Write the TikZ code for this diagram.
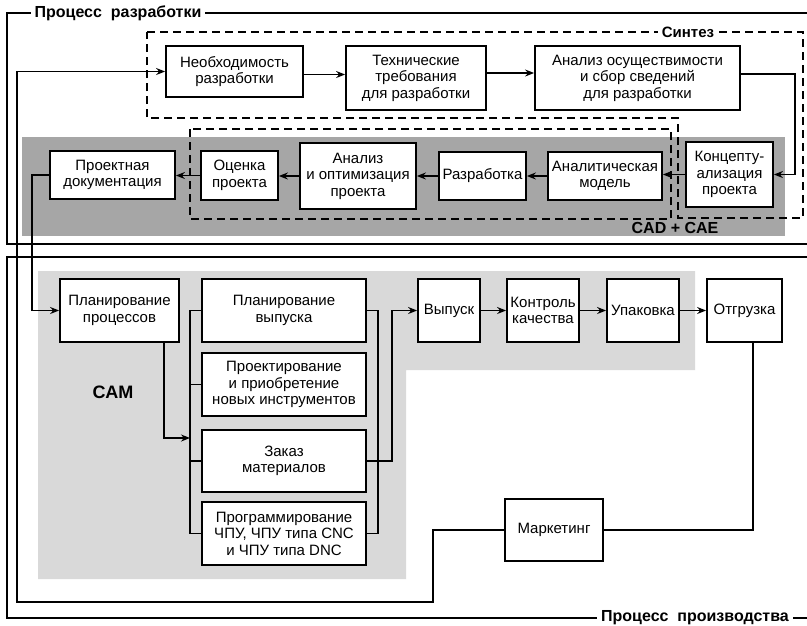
\documentclass[tikz,border=0pt]{standalone}
\usepackage{fontspec}
\setmainfont{Liberation Sans}
\usetikzlibrary{arrows.meta}
\definecolor{darkband}{RGB}{166,166,166}
\definecolor{lightband}{RGB}{217,217,217}
\begin{document}
\begin{tikzpicture}[x=1pt,y=-1pt,
 box/.style={draw, line width=1.8pt, fill=white, align=center, inner sep=1pt, font=\fontsize{15}{16.5}\selectfont},
 conn/.style={line width=1.5pt},
 arr/.style={conn, -{Stealth[length=9pt,width=7pt,inset=3pt]}},
 frame/.style={line width=1.6pt},
 synt/.style={line width=1.9pt, dash pattern=on 8pt off 5pt},
 lbl/.style={font=\bfseries\fontsize{16}{18}\selectfont, fill=white, inner xsep=4pt, inner ysep=1pt},
 bandlbl/.style={font=\bfseries\fontsize{16}{18}\selectfont, inner sep=0pt}
]
\useasboundingbox (0,0) rectangle (807,625);
\fill[white] (0,0) rectangle (807,625);

% backgrounds
\fill[darkband] (22,137) rectangle (785,236);
\fill[lightband] (38,271) -- (695,271) -- (695,370) -- (406,370) -- (406,579) -- (38,579) -- cycle;

% frames
\draw[frame] (807,13) -- (7,13) -- (7,244) -- (807,244);
\draw[frame] (807,257) -- (7,257) -- (7,618) -- (807,618);
\node[lbl] (lblA) at (118,13) {Процесс\ \ разработки};
\node[lbl] (lblB) at (695,618) {Процесс\ \ производства};

% dashed regions
\draw[synt] (147,32) -- (803,32) -- (803,218) -- (678,218) -- (678,118) -- (147,118) -- cycle;
\draw[synt] (190,129) rectangle (671,219);
\node[lbl, font=\bfseries\fontsize{15}{17}\selectfont] (lblS) at (688,32) {Синтез};
\node[bandlbl] (lblC) at (675,228) {CAD + CAE};
\node[bandlbl, font=\bfseries\fontsize{18}{20}\selectfont] (lblM) at (113,392) {CAM};

% top row
\node[box, minimum width=137pt, minimum height=51pt] (nb) at (234.5,71.5) {Необходимость\\разработки};
\node[box, minimum width=140pt, minimum height=64pt] (tt) at (416,78) {Технические\\требования\\для разработки};
\node[box, minimum width=205pt, minimum height=64pt] (ao) at (637.5,78) {Анализ осуществимости\\и сбор сведений\\для разработки};

% CAD row
\node[box, minimum width=87pt, minimum height=65pt] (kp) at (729.5,174.5) {Концепту-\\ализация\\проекта};
\node[box, minimum width=114pt, minimum height=48pt] (am) at (605,176) {Аналитическая\\модель};
\node[box, minimum width=87pt, minimum height=48pt] (rz) at (482.5,176) {Разработка};
\node[box, minimum width=116pt, minimum height=66pt] (ao2) at (358,176) {Анализ\\и оптимизация\\проекта};
\node[box, minimum width=77pt, minimum height=49pt] (op) at (239.5,175.5) {Оценка\\проекта};
\node[box, minimum width=125pt, minimum height=48pt] (pd) at (112.5,175) {Проектная\\документация};

% production
\node[box, minimum width=119pt, minimum height=63pt] (pp) at (119.5,310.5) {Планирование\\процессов};
\node[box, minimum width=164pt, minimum height=63pt] (pv) at (284,310.5) {Планирование\\выпуска};
\node[box, minimum width=164pt, minimum height=63pt] (pn) at (284,384.5) {Проектирование\\и приобретение\\новых инструментов};
\node[box, minimum width=164pt, minimum height=62pt] (zm) at (284,461) {Заказ\\материалов};
\node[box, minimum width=164pt, minimum height=63pt] (pr) at (284,533.5) {Программирование\\ЧПУ, ЧПУ типа CNC\\и ЧПУ типа DNC};
\node[box, minimum width=62pt, minimum height=63pt] (vy) at (449,310.5) {Выпуск};
\node[box, minimum width=72pt, minimum height=63pt] (kk) at (543,310.5) {Контроль\\качества};
\node[box, minimum width=72pt, minimum height=63pt] (up) at (643,310.5) {Упаковка};
\node[box, minimum width=75pt, minimum height=63pt] (ot) at (744.5,310.5) {Отгрузка};
\node[box, minimum width=98pt, minimum height=62pt] (mk) at (554,530) {Маркетинг};

% helper coordinates
\coordinate (cR) at (795,0);
\coordinate (cL) at (32,0);
\coordinate (cA) at (190,438);
\coordinate (cB) at (378,0);
\coordinate (cC) at (392,0);
\coordinate (cD) at (433,602);
\coordinate (cE) at (17,0);

% connectors
\draw[arr] ([yshift=-3pt]nb.east) -- ([yshift=-3pt]nb.east -| tt.west);
\draw[arr] ([yshift=5pt]tt.east) -- ([yshift=5pt]tt.east -| ao.west);
\draw[arr] ([yshift=4pt]ao.east) -- ([yshift=4pt]ao.east -| cR) |- (kp.east);
\draw[arr] (kp.west) -- (kp.west -| am.east);
\draw[arr] (am.west) -- (am.west -| rz.east);
\draw[arr] (rz.west) -- (rz.west -| ao2.east);
\draw[arr] (ao2.west) -- (ao2.west -| op.east);
\draw[arr] (op.west) -- (op.west -| pd.east);
\draw[arr] (pd.west) -- (pd.west -| cL) |- (pp.west);
\draw[arr] ([xshift=44.5pt]pp.south) |- (cA);
\draw[conn] (pv.west) -- (pv.west -| cA) |- (pr.west);
\draw[conn] (pn.west) -- (pn.west -| cA);
\draw[conn] (zm.west) -- (zm.west -| cA);
\draw[conn] (pv.east) -- (pv.east -| cB) |- (pr.east);
\draw[arr] (zm.east) -- (zm.east -| cC) |- (vy.west);
\draw[arr] (vy.east) -- (vy.east -| kk.west);
\draw[arr] (kk.east) -- (kk.east -| up.west);
\draw[arr] (up.east) -- (up.east -| ot.west);
\draw[conn] ([xshift=8.5pt]ot.south) |- (mk.east);
\draw[arr] (mk.west) -| (cD) -| (cE |- nb.west) -- (nb.west);
\end{tikzpicture}
\end{document}
